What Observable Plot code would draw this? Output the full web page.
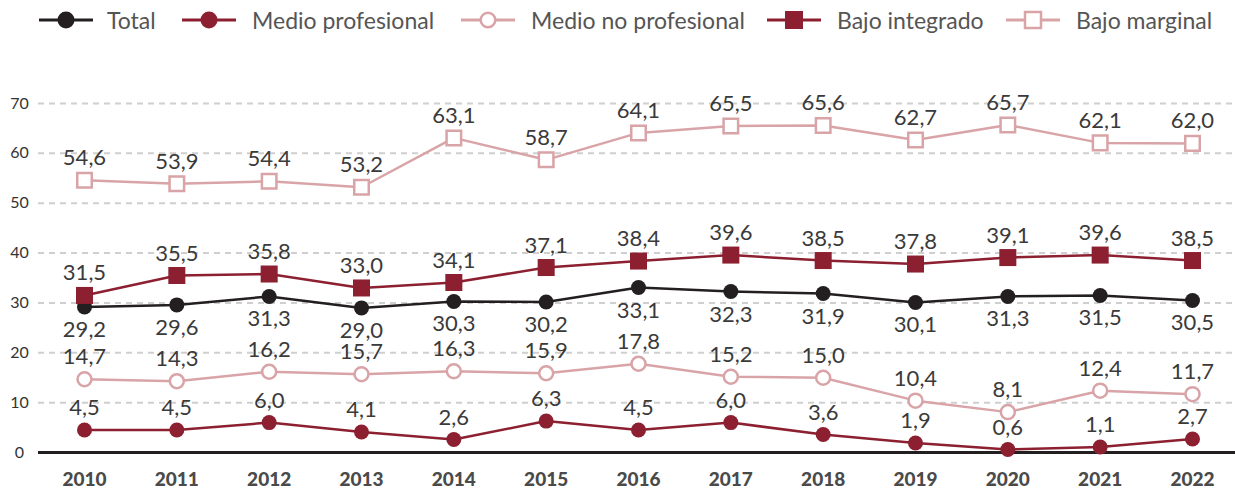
<!DOCTYPE html>
<html>
<head>
<meta charset="utf-8">
<script src="https://cdn.jsdelivr.net/npm/d3@7"></script>
<script src="https://cdn.jsdelivr.net/npm/@observablehq/plot@0.6"></script>
<style>
  body { margin: 0; background: white; font-family: Lato, "Open Sans", sans-serif; }
  #wrap { width: 1235px; position: relative; }
  #legend { position: relative; height: 40px; width: 1235px; }
  .lg-text { position: absolute; top: 6px; font-size: 23px; color: #555; white-space: nowrap; line-height: 28px; }
</style>
</head>
<body>
<div id="wrap">
  <div id="legend"></div>
  <div id="chart"></div>
</div>
<script>
const years = [2010,2011,2012,2013,2014,2015,2016,2017,2018,2019,2020,2021,2022];
const seriesNames = ["Total","Medio profesional","Medio no profesional","Bajo integrado","Bajo marginal"];
const total = [29.2,29.6,31.3,29.0,30.3,30.2,33.1,32.3,31.9,30.1,31.3,31.5,30.5];
const medioProfesional = [4.5,4.5,6.0,4.1,2.6,6.3,4.5,6.0,3.6,1.9,0.6,1.1,2.7];
const medioNoProfesional = [14.7,14.3,16.2,15.7,16.3,15.9,17.8,15.2,15.0,10.4,8.1,12.4,11.7];
const bajoIntegrado = [31.5,35.5,35.8,33.0,34.1,37.1,38.4,39.6,38.5,37.8,39.1,39.6,38.5];
const bajoMarginal = [54.6,53.9,54.4,53.2,63.1,58.7,64.1,65.5,65.6,62.7,65.7,62.1,62.0];
const yTicks = [0,10,20,30,40,50,60,70];

const DARK = "#231f20", RED = "#8c1f30", PINK = "#d9a4a7";
const styles = {
  "Total": {stroke: DARK, fill: DARK, symbol: "circle", r: 7.5, below: true},
  "Medio profesional": {stroke: RED, fill: RED, symbol: "circle", r: 7.5},
  "Medio no profesional": {stroke: PINK, fill: "white", symbol: "circle", r: 7, hollow: true},
  "Bajo integrado": {stroke: RED, fill: RED, symbol: "square", r: 9.6},
  "Bajo marginal": {stroke: PINK, fill: "white", symbol: "square", r: 8.2, hollow: true}
};
const valuesBySeries = {
  "Total": total,
  "Medio profesional": medioProfesional,
  "Medio no profesional": medioNoProfesional,
  "Bajo integrado": bajoIntegrado,
  "Bajo marginal": bajoMarginal
};
const fmt = v => v.toFixed(1).replace(".", ",");

// Legend
const legendPos = [
  {name: "Total", cx: 66, tx: 107},
  {name: "Medio profesional", cx: 209, tx: 252},
  {name: "Medio no profesional", cx: 488, tx: 531},
  {name: "Bajo integrado", cx: 794, tx: 837},
  {name: "Bajo marginal", cx: 1033, tx: 1076}
];
const legend = document.getElementById("legend");
for (const p of legendPos) {
  const s = styles[p.name];
  const ns = "http://www.w3.org/2000/svg";
  const svg = document.createElementNS(ns, "svg");
  svg.setAttribute("width", 60); svg.setAttribute("height", 40);
  svg.style.position = "absolute"; svg.style.left = (p.cx - 30) + "px"; svg.style.top = "0px";
  const line = document.createElementNS(ns, "line");
  line.setAttribute("x1", 3); line.setAttribute("x2", 57); line.setAttribute("y1", 20); line.setAttribute("y2", 20);
  line.setAttribute("stroke", s.stroke); line.setAttribute("stroke-width", 3);
  svg.appendChild(line);
  let m;
  if (s.symbol === "circle") {
    m = document.createElementNS(ns, "circle");
    m.setAttribute("cx", 30); m.setAttribute("cy", 20); m.setAttribute("r", s.hollow ? 7.3 : 8.5);
  } else {
    m = document.createElementNS(ns, "rect");
    const side = s.hollow ? 16 : 18;
    m.setAttribute("x", 30 - side/2); m.setAttribute("y", 20 - side/2);
    m.setAttribute("width", side); m.setAttribute("height", side);
  }
  m.setAttribute("fill", s.fill); m.setAttribute("stroke", s.stroke);
  m.setAttribute("stroke-width", s.hollow ? 2.5 : 0);
  svg.appendChild(m);
  legend.appendChild(svg);
  const t = document.createElement("div");
  t.className = "lg-text"; t.style.left = p.tx + "px"; t.textContent = p.name;
  legend.appendChild(t);
}

// Data table
const data = [];
for (const name of seriesNames) {
  valuesBySeries[name].forEach((v, i) => data.push({series: name, year: years[i], value: v}));
}

const marks = [
  Plot.ruleY(yTicks.filter(d => d > 0), {stroke: "#cfcfcf", strokeWidth: 2, strokeDasharray: "6,5", insetLeft: -46, insetRight: -43}),
  Plot.ruleY([0], {stroke: DARK, strokeWidth: 3, insetLeft: -46, insetRight: -43}),
  Plot.text(yTicks, {y: d => d, text: d => String(d), frameAnchor: "left", dx: -65, textAnchor: "middle", fontSize: 16, fill: "#333"}),
  Plot.text(years, {x: d => d, text: d => String(d), frameAnchor: "bottom", dy: 33, textAnchor: "middle", fontSize: 19, fontWeight: "900", fill: "#4a4a4a"})
];
for (const name of seriesNames) {
  const s = styles[name];
  const rows = data.filter(d => d.series === name);
  marks.push(Plot.line(rows, {x: "year", y: "value", stroke: s.stroke, strokeWidth: 2.5}));
}
for (const name of seriesNames) {
  const s = styles[name];
  const rows = data.filter(d => d.series === name);
  marks.push(Plot.dot(rows, {x: "year", y: "value", symbol: s.symbol, r: s.r, fill: s.fill, stroke: s.stroke, strokeWidth: s.hollow ? 2.5 : 0}));
  marks.push(Plot.text(rows, {x: "year", y: "value", text: d => fmt(d.value), dy: s.below ? 23 : -22, fontSize: 22, fill: "#3a3a3a", textAnchor: "middle", lineAnchor: "middle"}));
}

const chart = Plot.plot({
  width: 1235,
  height: 455,
  marginLeft: 84,
  marginRight: 43,
  marginTop: 63,
  marginBottom: 43,
  x: {domain: [2010, 2022], axis: null},
  y: {domain: [0, 70], axis: null},
  style: {fontFamily: "Lato, 'Open Sans', sans-serif", background: "white", overflow: "visible"},
  marks
});
document.getElementById("chart").appendChild(chart);
</script>
</body>
</html>
